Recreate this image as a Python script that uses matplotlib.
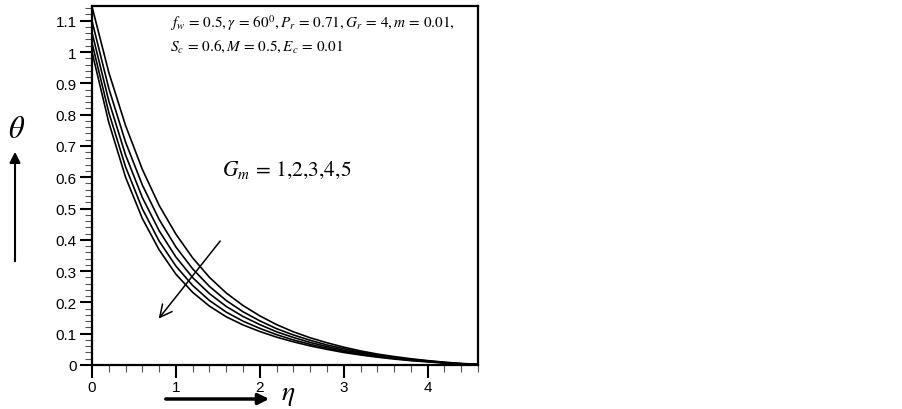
import matplotlib
matplotlib.use("Agg")
import matplotlib.pyplot as plt
from matplotlib.ticker import MultipleLocator

plt.rcParams['mathtext.fontset'] = 'stix'
plt.rcParams['font.family'] = ['Liberation Sans', 'DejaVu Sans']

eta = [0.0, 0.2, 0.4, 0.6, 0.8, 1.0, 1.2, 1.4, 1.6, 1.8, 2.0, 2.2, 2.4, 2.6,
       2.8, 3.0, 3.2, 3.4, 3.6, 3.8, 4.0, 4.2, 4.4, 4.6]
theta_gm1 = [1.145, 0.935, 0.765, 0.625, 0.51, 0.418, 0.342, 0.28, 0.23, 0.19, 0.157, 0.129,
             0.106, 0.087, 0.071, 0.057, 0.045, 0.035, 0.027, 0.02, 0.014, 0.009, 0.005, 0.002]
theta_gm2 = [1.099, 0.884, 0.712, 0.575, 0.465, 0.377, 0.307, 0.251, 0.206, 0.17, 0.141, 0.116,
             0.096, 0.079, 0.064, 0.052, 0.041, 0.032, 0.024, 0.018, 0.013, 0.008, 0.004, 0.002]
theta_gm3 = [1.062, 0.844, 0.671, 0.535, 0.429, 0.345, 0.279, 0.228, 0.187, 0.155, 0.129, 0.106,
             0.088, 0.072, 0.059, 0.047, 0.038, 0.029, 0.022, 0.017, 0.012, 0.007, 0.004, 0.001]
theta_gm4 = [1.029, 0.807, 0.633, 0.499, 0.396, 0.316, 0.254, 0.206, 0.169, 0.14, 0.117, 0.097,
             0.08, 0.066, 0.054, 0.043, 0.035, 0.027, 0.021, 0.015, 0.011, 0.007, 0.003, 0.001]
theta_gm5 = [1.0, 0.775, 0.60, 0.468, 0.368, 0.29, 0.232, 0.188, 0.154, 0.128, 0.107, 0.089,
             0.074, 0.061, 0.05, 0.04, 0.032, 0.025, 0.019, 0.014, 0.01, 0.006, 0.003, 0.001]
series = [theta_gm1, theta_gm2, theta_gm3, theta_gm4, theta_gm5]

x_ticks = [0, 1, 2, 3, 4]
y_ticks = [0, 0.1, 0.2, 0.3, 0.4, 0.5, 0.6, 0.7, 0.8, 0.9, 1.0, 1.1]
y_tick_labels = ['0', '0.1', '0.2', '0.3', '0.4', '0.5', '0.6', '0.7', '0.8', '0.9', '1', '1.1']

fig = plt.figure(figsize=(9.03, 4.10), dpi=100)
ax = fig.add_axes([92/903, 1-366/410, (478-92)/903, (366-7)/410])

for s in series:
    ax.plot(eta, s, color='black', lw=1.2)

ax.set_xlim(0, 4.6)
ax.set_ylim(0, 1.147)
ax.set_xticks(x_ticks)
ax.set_xticklabels([str(t) for t in x_ticks])
ax.set_yticks(y_ticks)
ax.set_yticklabels(y_tick_labels)
ax.xaxis.set_minor_locator(MultipleLocator(0.2))
ax.yaxis.set_minor_locator(MultipleLocator(0.02))
ax.tick_params(axis='both', which='major', direction='out', length=9, width=1.5,
               labelsize=11, pad=2)
ax.tick_params(axis='both', which='minor', direction='out', length=5, width=0.8, color='#555555')
ax.tick_params(top=False, right=False)
for sp in ax.spines.values():
    sp.set_linewidth(1.6)

ax.text(0.93, 1.095,
        r'$f_w\,=\,0.5, \gamma\,=\,60^0, P_r\,=\,0.71, G_r\,=\,4, m\,=\,0.01,$',
        fontsize=11, ha='left', va='center')
ax.text(0.93, 1.02, r'$S_c\,=\,0.6, M\,=\,0.5, E_c\,=\,0.01$',
        fontsize=11, ha='left', va='center')
ax.text(1.55, 0.625, r'$G_m\,=\,1{,}2{,}3{,}4{,}5$', fontsize=15.5, ha='left', va='center')

ax.annotate('', xy=(0.774, 0.141), xytext=(1.548, 0.403),
            arrowprops=dict(arrowstyle='->', color='black', lw=1.1,
                            mutation_scale=22))

fig.text(17/903, 1-130/410, r'$\theta$', fontsize=22, ha='center', va='center')
fig.text(288/903, 1-395/410, r'$\eta$', fontsize=20, ha='center', va='center')
fig.patches.append(matplotlib.patches.FancyArrowPatch(
    (15/903, 1-265/410), (15/903, 1-150/410), transform=fig.transFigure,
    arrowstyle='-|>', mutation_scale=16, color='black', lw=1.5))
fig.patches.append(matplotlib.patches.FancyArrowPatch(
    (163/903, 1-400/410), (272/903, 1-400/410), transform=fig.transFigure,
    arrowstyle='-|>', mutation_scale=16, color='black', lw=2.5))

fig.savefig('out.png', dpi=100)
